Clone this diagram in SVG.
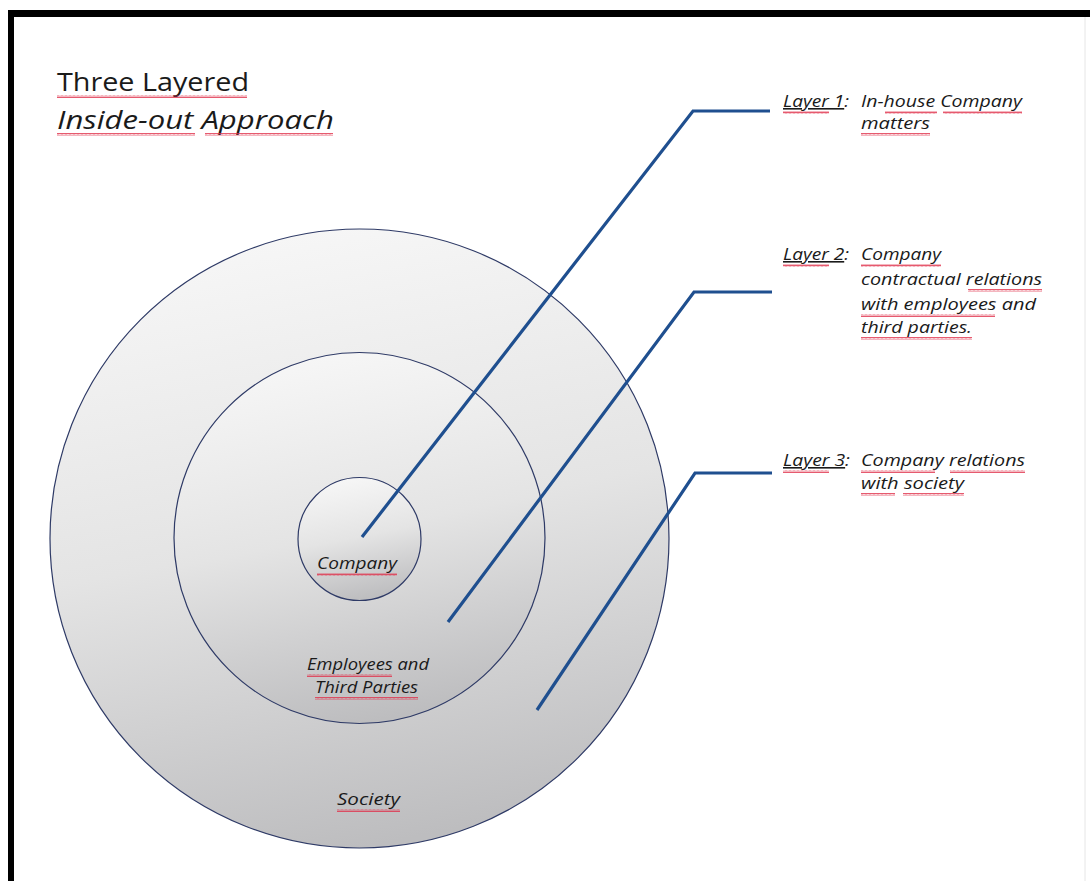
<svg xmlns="http://www.w3.org/2000/svg" width="1090" height="881" viewBox="0 0 1090 881">
<defs>
<linearGradient id="g" x1="0.3" y1="0" x2="0.5" y2="1">
<stop offset="0" stop-color="#f7f7f7"/>
<stop offset="0.5" stop-color="#e4e4e4"/>
<stop offset="1" stop-color="#bdbdbf"/>
</linearGradient>
<pattern id="sq" width="4" height="3" patternUnits="userSpaceOnUse">
<path d="M0,2.5 L1,0.5 L2,2.5 L3,0.5 L4,2.5" fill="none" stroke="#e0304a" stroke-width="0.8"/>
</pattern>
<style>
.c{fill:url(#g);stroke:#2e3a66;stroke-width:1.2}
.ln{fill:none;stroke:#1f4f8f;stroke-width:3.2;stroke-linecap:butt}
.t{font-family:"Open Sans",Lato,sans-serif;fill:#1a1a1a}
.i{font-style:italic;font-size:16px}
.h{font-size:25px}
.s{fill:url(#sq)}
</style>
</defs>
<rect width="1090" height="881" fill="#ffffff"/>
<line x1="1085" y1="17" x2="1085" y2="881" stroke="#e6e6e6" stroke-width="1"/>
<rect x="8" y="10" width="1082" height="7" fill="#000"/>
<rect x="8" y="10" width="6" height="871" fill="#000"/>

<g id="title">
<text class="t h" x="57" y="91" textLength="192" lengthAdjust="spacingAndGlyphs">Three Layered</text>
<text class="t h" x="57" y="129" font-style="italic" textLength="277" lengthAdjust="spacingAndGlyphs">Inside-out  Approach</text>
<rect class="s" x="57" y="95" width="190" height="3"/>
<rect class="s" x="57" y="133" width="138" height="3"/>
<rect class="s" x="205" y="133" width="128" height="3"/>
</g>

<g id="society">
<circle class="c" cx="359.5" cy="538.5" r="309.5"/>
<text class="t i" x="337" y="805" textLength="63" lengthAdjust="spacingAndGlyphs">Society</text>
<rect class="s" x="337" y="809" width="63" height="3"/>
</g>
<g id="employees">
<circle class="c" cx="359.5" cy="538" r="185.5"/>
<text class="t i" x="307" y="670" textLength="122" lengthAdjust="spacingAndGlyphs">Employees and</text>
<text class="t i" x="315" y="693" textLength="103" lengthAdjust="spacingAndGlyphs">Third Parties</text>
<rect class="s" x="307" y="674" width="85" height="3"/>
<rect class="s" x="315" y="697" width="103" height="3"/>
</g>
<g id="company">
<circle class="c" cx="359.5" cy="539" r="61.5"/>
<text class="t i" x="317" y="569" textLength="80" lengthAdjust="spacingAndGlyphs">Company</text>
<rect class="s" x="317" y="573" width="80" height="3"/>
</g>

<g id="connectors">
<polyline class="ln" points="362,537 693,111 770,111"/>
<polyline class="ln" points="448,622 694,292 772,292"/>
<polyline class="ln" points="537,710 695,473 772,473"/>
</g>

<g id="layer1">
<text class="t i" x="783" y="107" textLength="66" lengthAdjust="spacingAndGlyphs"><tspan text-decoration="underline">Layer 1</tspan>:</text>
<text class="t i" x="861" y="107" textLength="161" lengthAdjust="spacingAndGlyphs">In-house Company</text>
<text class="t i" x="861" y="129" textLength="69" lengthAdjust="spacingAndGlyphs">matters</text>
<rect class="s" x="783" y="111" width="46" height="3"/>
<rect class="s" x="885" y="111" width="52" height="3"/>
<rect class="s" x="943" y="111" width="79" height="3"/>
<rect class="s" x="861" y="133" width="69" height="3"/>
</g>
<g id="layer2">
<text class="t i" x="783" y="260" textLength="66" lengthAdjust="spacingAndGlyphs"><tspan text-decoration="underline">Layer 2</tspan>:</text>
<text class="t i" x="861" y="260" textLength="80" lengthAdjust="spacingAndGlyphs">Company</text>
<text class="t i" x="861" y="285" textLength="181" lengthAdjust="spacingAndGlyphs">contractual relations</text>
<text class="t i" x="861" y="310" textLength="175" lengthAdjust="spacingAndGlyphs">with employees and</text>
<text class="t i" x="861" y="333" textLength="111" lengthAdjust="spacingAndGlyphs">third parties.</text>
<rect class="s" x="783" y="264" width="46" height="3"/>
<rect class="s" x="861" y="264" width="80" height="3"/>
<rect class="s" x="968" y="289" width="74" height="3"/>
<rect class="s" x="861" y="314" width="134" height="3"/>
<rect class="s" x="861" y="337" width="111" height="3"/>
</g>
<g id="layer3">
<text class="t i" x="783" y="466" textLength="67" lengthAdjust="spacingAndGlyphs"><tspan text-decoration="underline">Layer 3</tspan>:</text>
<text class="t i" x="861" y="466" textLength="164" lengthAdjust="spacingAndGlyphs">Company relations</text>
<text class="t i" x="861" y="489" textLength="103" lengthAdjust="spacingAndGlyphs">with society</text>
<rect class="s" x="783" y="470" width="46" height="3"/>
<rect class="s" x="861" y="470" width="74" height="3"/>
<rect class="s" x="950" y="470" width="75" height="3"/>
<rect class="s" x="861" y="493" width="34" height="3"/>
<rect class="s" x="903" y="493" width="61" height="3"/>
</g>
</svg>
